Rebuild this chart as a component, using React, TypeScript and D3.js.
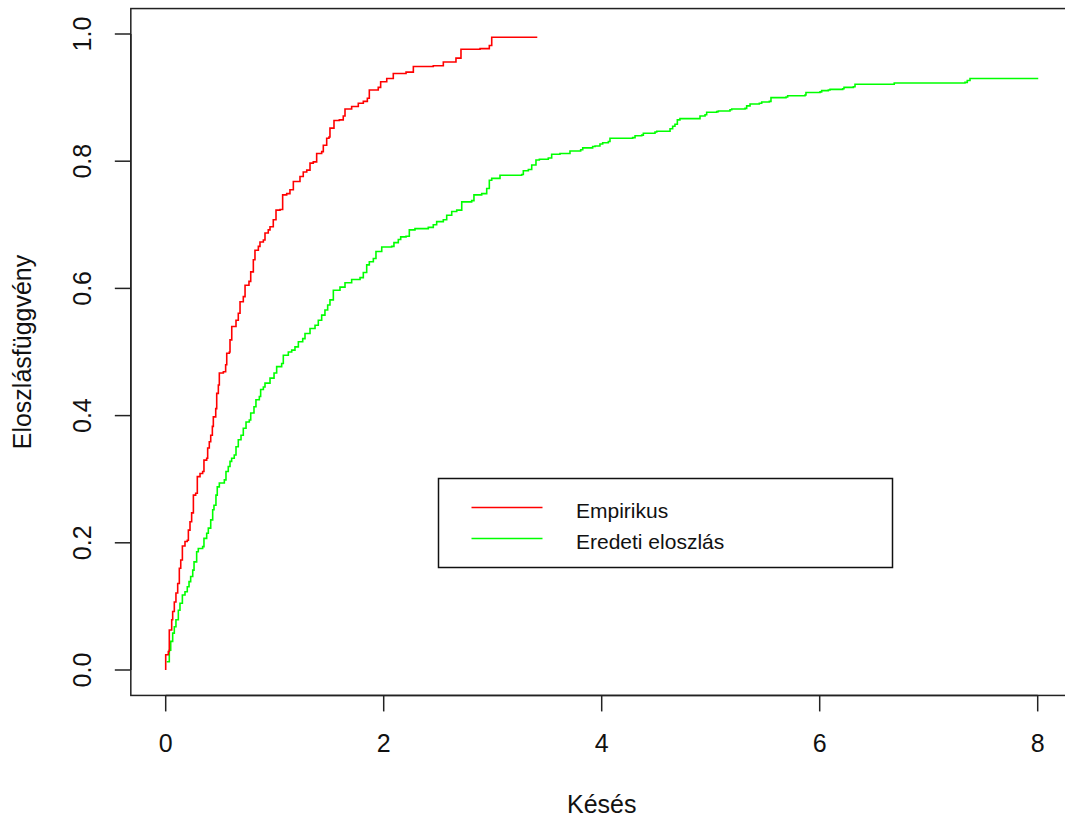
import React from "react";
import * as d3 from "d3";

// Empirical CDF ("Empirikus") step positions
const empX = [0, 0, 0.024, 0.033, 0.055, 0.064, 0.079, 0.094, 0.110, 0.125, 0.138, 0.153, 0.177, 0.198, 0.208, 0.223, 0.238, 0.254, 0.275, 0.290, 0.315, 0.339, 0.351, 0.376, 0.385, 0.400, 0.413, 0.428, 0.437, 0.459, 0.468, 0.483, 0.492, 0.529, 0.550, 0.560, 0.584, 0.590, 0.606, 0.645, 0.666, 0.682, 0.712, 0.728, 0.764, 0.780, 0.804, 0.819, 0.850, 0.865, 0.896, 0.911, 0.941, 0.957, 0.987, 1.012, 1.049, 1.073, 1.110, 1.140, 1.171, 1.232, 1.262, 1.294, 1.324, 1.354, 1.385, 1.431, 1.446, 1.477, 1.498, 1.507, 1.544, 1.593, 1.629, 1.645, 1.706, 1.767, 1.813, 1.850, 1.868, 1.950, 1.972, 2.028, 2.088, 2.205, 2.272, 2.455, 2.547, 2.663, 2.709, 2.884, 2.969, 2.991, 3.409];
const empY = [0, 0.024, 0.029, 0.063, 0.079, 0.092, 0.107, 0.121, 0.136, 0.160, 0.173, 0.195, 0.202, 0.204, 0.220, 0.233, 0.247, 0.275, 0.278, 0.304, 0.309, 0.312, 0.330, 0.333, 0.349, 0.359, 0.369, 0.383, 0.398, 0.411, 0.435, 0.448, 0.467, 0.469, 0.480, 0.498, 0.500, 0.519, 0.540, 0.550, 0.561, 0.579, 0.587, 0.605, 0.611, 0.626, 0.645, 0.660, 0.666, 0.673, 0.676, 0.687, 0.692, 0.697, 0.708, 0.723, 0.724, 0.747, 0.749, 0.755, 0.768, 0.776, 0.783, 0.786, 0.797, 0.799, 0.812, 0.815, 0.825, 0.836, 0.838, 0.852, 0.864, 0.865, 0.871, 0.882, 0.886, 0.891, 0.894, 0.899, 0.912, 0.916, 0.925, 0.930, 0.938, 0.940, 0.949, 0.950, 0.956, 0.962, 0.976, 0.977, 0.982, 0.995, 0.995];

// Original distribution ("Eredeti eloszlás") step positions
const origX = [0.009, 0.033, 0.046, 0.064, 0.079, 0.094, 0.116, 0.131, 0.153, 0.177, 0.198, 0.214, 0.229, 0.248, 0.260, 0.284, 0.299, 0.339, 0.351, 0.376, 0.391, 0.413, 0.431, 0.443, 0.461, 0.473, 0.492, 0.538, 0.553, 0.574, 0.590, 0.605, 0.629, 0.645, 0.666, 0.691, 0.712, 0.737, 0.767, 0.780, 0.810, 0.828, 0.859, 0.871, 0.896, 0.911, 0.957, 0.994, 1.018, 1.064, 1.079, 1.125, 1.156, 1.186, 1.217, 1.257, 1.278, 1.324, 1.370, 1.400, 1.431, 1.461, 1.486, 1.507, 1.538, 1.599, 1.645, 1.706, 1.783, 1.813, 1.844, 1.868, 1.905, 1.929, 1.982, 2.073, 2.094, 2.134, 2.156, 2.205, 2.235, 2.287, 2.409, 2.455, 2.486, 2.547, 2.578, 2.624, 2.670, 2.716, 2.807, 2.828, 2.899, 2.945, 2.969, 2.991, 3.067, 3.266, 3.281, 3.327, 3.358, 3.397, 3.428, 3.510, 3.541, 3.617, 3.709, 3.807, 3.826, 3.917, 3.939, 3.984, 4.009, 4.061, 4.076, 4.284, 4.306, 4.367, 4.382, 4.489, 4.505, 4.627, 4.651, 4.672, 4.694, 4.718, 4.886, 4.902, 4.948, 4.963, 5.055, 5.070, 5.177, 5.193, 5.315, 5.330, 5.361, 5.446, 5.468, 5.538, 5.553, 5.691, 5.706, 5.865, 5.874, 6.003, 6.018, 6.079, 6.095, 6.211, 6.223, 6.309, 6.324, 6.670, 6.684, 7.333, 7.354, 7.379, 8.005];
const origY = [0.013, 0.031, 0.045, 0.058, 0.068, 0.079, 0.094, 0.105, 0.118, 0.123, 0.131, 0.139, 0.147, 0.157, 0.170, 0.186, 0.191, 0.194, 0.207, 0.215, 0.223, 0.236, 0.252, 0.259, 0.275, 0.288, 0.294, 0.299, 0.312, 0.320, 0.328, 0.333, 0.338, 0.351, 0.362, 0.369, 0.380, 0.390, 0.393, 0.404, 0.414, 0.425, 0.430, 0.441, 0.445, 0.451, 0.459, 0.467, 0.477, 0.482, 0.495, 0.500, 0.503, 0.508, 0.516, 0.521, 0.529, 0.537, 0.542, 0.550, 0.558, 0.566, 0.574, 0.582, 0.597, 0.602, 0.609, 0.614, 0.617, 0.625, 0.637, 0.642, 0.647, 0.658, 0.665, 0.666, 0.672, 0.677, 0.681, 0.682, 0.692, 0.694, 0.696, 0.700, 0.705, 0.708, 0.715, 0.721, 0.723, 0.736, 0.738, 0.747, 0.749, 0.757, 0.770, 0.773, 0.778, 0.779, 0.785, 0.787, 0.794, 0.802, 0.803, 0.805, 0.811, 0.812, 0.816, 0.818, 0.821, 0.823, 0.824, 0.827, 0.829, 0.831, 0.836, 0.837, 0.840, 0.841, 0.844, 0.846, 0.847, 0.851, 0.855, 0.858, 0.865, 0.867, 0.867, 0.871, 0.873, 0.877, 0.878, 0.879, 0.881, 0.882, 0.883, 0.887, 0.890, 0.891, 0.893, 0.894, 0.900, 0.901, 0.903, 0.904, 0.908, 0.909, 0.911, 0.912, 0.913, 0.914, 0.916, 0.917, 0.921, 0.921, 0.923, 0.924, 0.927, 0.930, 0.930];

const xTicks = [0, 2, 4, 6, 8];
const yTicks = [0, 0.2, 0.4, 0.6, 0.8, 1.0];
const yTickLabels = ["0.0", "0.2", "0.4", "0.6", "0.8", "1.0"];
const xTitle = "Késés";
const yTitle = "Eloszlásfüggvény";
const legendLabels = ["Empirikus", "Eredeti eloszlás"];
const seriesColors = ["#ff0000", "#00ff00"];

const W = 1065;
const H = 819;
const FONT = "'Liberation Sans', Arial, sans-serif";

export default function App() {
  const x = d3.scaleLinear().domain([0, 8]).range([165.7, 1037.7]);
  const y = d3.scaleLinear().domain([0, 1]).range([670, 34]);
  const x0 = x(-0.32), x1 = x(8.32);
  const yTop = y(1.04), yBot = y(-0.04);

  const line = d3
    .line<[number, number]>()
    .x((d) => x(d[0]))
    .y((d) => y(d[1]))
    .curve(d3.curveStepAfter);

  const emp: [number, number][] = empX.map((v, i) => [v, empY[i]]);
  const orig: [number, number][] = origX.map((v, i) => [v, origY[i]]);

  const tickLen = 16;

  // legend layout
  const lg = { x: 438.5, y: 478.5, w: 454, h: 89 };
  const rowY = [507.5, 538.5];

  return (
    <svg
      width={W}
      height={H}
      style={{ position: "absolute", left: 0, top: 0, background: "#fff" }}
      fontFamily={FONT}
    >
      <rect x={0} y={0} width={W} height={H} fill="#fff" />
      {/* series */}
      <path d={line(orig) || ""} fill="none" stroke={seriesColors[1]} strokeWidth={1.6} />
      <path d={line(emp) || ""} fill="none" stroke={seriesColors[0]} strokeWidth={1.6} />

      {/* plot box */}
      <rect x={x0} y={yTop} width={x1 - x0} height={yBot - yTop} fill="none" stroke="#222" strokeWidth={1.5} />

      {/* x axis */}
      <line x1={x(0)} x2={x(8)} y1={yBot} y2={yBot} stroke="#222" strokeWidth={1.5} />
      {xTicks.map((t) => (
        <g key={"xt" + t}>
          <line x1={x(t)} x2={x(t)} y1={yBot} y2={yBot + tickLen} stroke="#222" strokeWidth={1.5} />
          <text x={x(t)} y={752} textAnchor="middle" fontSize={25} fill="#111">
            {String(t)}
          </text>
        </g>
      ))}
      <text x={(x0 + x1) / 2} y={813} textAnchor="middle" fontSize={25} fill="#111">
        {xTitle}
      </text>

      {/* y axis */}
      <line x1={x0} x2={x0} y1={y(0)} y2={y(1)} stroke="#222" strokeWidth={1.5} />
      {yTicks.map((t, i) => (
        <g key={"yt" + i}>
          <line x1={x0 - tickLen} x2={x0} y1={y(t)} y2={y(t)} stroke="#222" strokeWidth={1.5} />
          <text
            transform={`translate(91,${y(t)}) rotate(-90)`}
            textAnchor="middle"
            fontSize={25}
            fill="#111"
          >
            {yTickLabels[i]}
          </text>
        </g>
      ))}
      <text
        transform={`translate(31,${(yTop + yBot) / 2}) rotate(-90)`}
        textAnchor="middle"
        fontSize={25}
        fill="#111"
      >
        {yTitle}
      </text>

      {/* legend */}
      <rect x={lg.x} y={lg.y} width={lg.w} height={lg.h} fill="#fff" stroke="#111" strokeWidth={1.5} />
      {legendLabels.map((lab, i) => (
        <g key={lab}>
          <line x1={471.5} x2={542.5} y1={rowY[i]} y2={rowY[i]} stroke={seriesColors[i]} strokeWidth={1.6} />
          <text x={576} y={rowY[i] + 10} fontSize={21} fill="#111">
            {lab}
          </text>
        </g>
      ))}
    </svg>
  );
}
